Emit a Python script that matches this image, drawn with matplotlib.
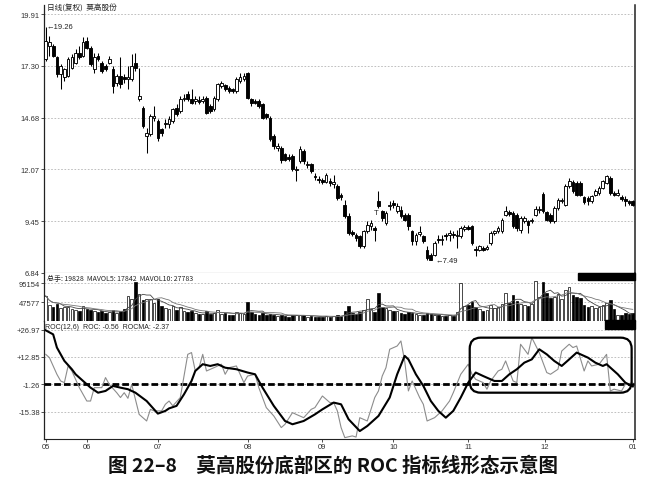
import numpy as np
import pandas as pd
import matplotlib
matplotlib.use("Agg")
import matplotlib.pyplot as plt
from matplotlib.patches import FancyBboxPatch, Rectangle
from matplotlib.transforms import IdentityTransform

plt.rcParams['font.family'] = ['Liberation Sans', 'Noto Sans CJK SC', 'DejaVu Sans']

# ---------------- data ----------------
open_ = [17.63, 18.31, 18.31, 17.72, 16.87, 16.71, 16.79, 17.21, 17.46, 17.97,
         17.80, 18.56, 18.22, 17.13, 17.80, 17.46, 17.30, 17.46, 17.13, 16.45,
         16.79, 16.71, 16.62, 16.62, 17.46, 15.61, 15.19, 13.75, 13.84, 14.68,
         14.51, 14.09, 14.34, 14.34, 14.51, 15.19, 15.02, 15.61, 15.86, 15.61,
         15.52, 15.56, 15.51, 15.69, 15.27, 15.10, 15.61, 16.28, 16.32, 16.20,
         16.12, 16.03, 16.54, 16.62, 16.96, 15.61, 15.52, 15.52, 15.36, 14.85,
         14.68, 13.75, 13.16, 13.16, 12.83, 12.69, 12.74, 12.03, 12.49, 12.99,
         12.27, 12.32, 11.76, 11.59, 11.51, 11.43, 11.48, 11.31, 11.22, 10.77,
         10.29, 9.71, 8.91, 8.78, 8.69, 8.19, 8.95, 9.20, 9.11, 10.46,
         9.96, 9.37, 10.21, 10.38, 9.96, 10.04, 9.79, 9.79, 8.95, 8.44,
         8.81, 8.69, 8.02, 7.76, 7.76, 8.56, 8.49, 8.78, 8.78, 8.81,
         8.69, 8.69, 9.08, 9.15, 9.20, 8.05, 8.02, 8.10, 8.07, 8.36,
         8.86, 8.95, 8.95, 9.79, 9.94, 9.87, 9.79, 9.03, 9.45, 9.45,
         9.45, 9.79, 10.01, 10.85, 9.91, 9.79, 9.45, 10.13, 10.46, 10.29,
         11.22, 11.43, 11.39, 11.39, 10.68, 10.63, 10.46, 10.80, 10.89, 11.14,
         11.39, 11.64, 10.89, 10.80, 10.67, 10.58, 10.46, 10.46]
close = [18.56, 18.48, 17.80, 16.87, 17.30, 17.13, 17.63, 17.72, 17.97, 17.72,
         18.48, 18.22, 17.38, 17.72, 17.63, 17.04, 17.13, 17.63, 16.28, 16.79,
         16.37, 16.62, 16.71, 17.30, 17.21, 15.78, 14.26, 13.92, 14.77, 14.77,
         13.67, 13.92, 14.43, 14.60, 15.10, 14.85, 15.61, 15.69, 15.61, 15.44,
         15.61, 15.47, 15.61, 14.93, 15.02, 15.69, 16.37, 16.42, 16.12, 16.03,
         16.01, 16.62, 16.71, 16.79, 15.69, 15.44, 15.44, 15.27, 14.68, 14.73,
         13.58, 13.25, 13.25, 12.57, 12.57, 12.61, 12.07, 12.10, 13.08, 12.49,
         12.35, 11.98, 11.68, 11.51, 11.43, 11.81, 11.39, 11.43, 10.63, 10.68,
         9.71, 8.86, 8.81, 8.61, 8.19, 8.95, 9.28, 9.37, 9.03, 10.21,
         9.62, 9.87, 10.29, 10.29, 10.21, 9.71, 9.54, 9.20, 8.44, 8.78,
         8.89, 8.44, 7.60, 7.51, 8.36, 8.49, 8.56, 8.69, 8.86, 8.74,
         8.78, 9.11, 9.15, 9.08, 8.36, 7.98, 8.19, 8.02, 8.15, 8.86,
         8.95, 9.11, 9.54, 9.96, 9.84, 9.20, 9.11, 9.62, 9.62, 9.28,
         9.54, 10.08, 10.09, 9.96, 9.54, 9.45, 10.13, 10.55, 10.55, 11.22,
         11.48, 10.97, 10.80, 10.80, 10.41, 10.46, 10.72, 10.97, 11.14, 11.48,
         11.73, 10.89, 10.80, 10.89, 10.58, 10.50, 10.38, 10.29]
high = [19.26, 18.81, 18.39, 17.80, 17.38, 17.21, 17.72, 17.89, 18.14, 18.31,
        18.73, 18.73, 18.31, 17.97, 17.97, 17.55, 17.38, 17.80, 17.30, 16.87,
        17.72, 16.87, 17.30, 17.89, 17.97, 17.21, 15.27, 14.17, 14.85, 15.27,
        14.60, 14.17, 14.60, 14.77, 15.19, 15.36, 15.78, 15.86, 16.03, 16.12,
        15.78, 15.78, 15.78, 15.78, 15.36, 15.78, 16.45, 16.54, 16.37, 16.28,
        16.20, 16.71, 16.96, 16.96, 16.99, 15.69, 15.61, 15.61, 15.44, 14.93,
        14.77, 13.84, 13.42, 13.25, 12.91, 12.83, 12.83, 12.24, 13.25, 13.08,
        12.49, 12.40, 11.90, 11.73, 11.64, 11.90, 11.64, 11.81, 11.31, 10.89,
        10.55, 9.87, 9.03, 8.86, 8.78, 9.03, 9.45, 9.54, 9.20, 10.97,
        10.04, 9.96, 10.46, 10.55, 10.38, 10.21, 9.87, 9.87, 9.03, 8.86,
        9.20, 8.78, 8.19, 7.85, 8.44, 8.78, 8.78, 8.86, 9.03, 8.95,
        9.03, 9.20, 9.28, 9.28, 9.28, 8.19, 8.27, 8.19, 8.27, 8.95,
        9.03, 9.20, 9.62, 10.21, 10.04, 9.96, 9.87, 9.71, 9.71, 9.54,
        9.62, 10.21, 10.21, 10.92, 9.96, 9.87, 10.21, 10.63, 10.63, 11.31,
        11.64, 11.56, 11.48, 11.48, 10.75, 10.72, 10.80, 11.06, 11.22, 11.56,
        11.81, 11.73, 10.97, 11.06, 10.80, 10.72, 10.55, 10.55]
low = [17.55, 17.80, 17.72, 16.71, 16.12, 16.54, 16.71, 17.13, 17.38, 17.63,
       17.72, 18.14, 17.30, 16.96, 17.55, 16.96, 17.04, 17.38, 15.95, 16.28,
       16.20, 16.45, 16.12, 16.54, 17.04, 15.52, 14.17, 12.91, 13.75, 14.51,
       13.50, 13.75, 14.17, 14.17, 14.43, 14.77, 14.93, 15.52, 15.52, 15.36,
       15.36, 15.36, 15.44, 14.85, 14.93, 15.02, 15.52, 16.20, 16.03, 15.95,
       15.95, 15.95, 16.45, 16.54, 15.61, 15.27, 15.36, 15.19, 14.60, 14.60,
       13.50, 13.08, 12.99, 12.40, 12.49, 12.49, 11.98, 11.48, 12.40, 12.32,
       12.15, 11.90, 11.56, 11.39, 11.31, 11.39, 11.22, 11.14, 10.55, 10.55,
       9.62, 8.78, 8.69, 8.44, 8.10, 8.10, 8.86, 9.03, 8.44, 10.13,
       9.45, 9.28, 10.04, 10.13, 9.87, 9.62, 9.45, 9.03, 8.27, 8.27,
       8.69, 8.36, 7.51, 7.49, 7.68, 8.36, 8.27, 8.52, 8.44, 8.61,
       8.10, 8.61, 8.95, 9.03, 8.27, 7.68, 7.93, 7.93, 8.02, 8.27,
       8.78, 8.86, 8.86, 9.71, 9.71, 9.11, 8.95, 8.86, 9.37, 8.86,
       9.37, 9.71, 9.87, 9.87, 9.45, 9.37, 9.37, 10.04, 10.38, 10.21,
       11.14, 10.89, 10.72, 10.72, 10.34, 10.29, 10.38, 10.72, 10.80, 11.06,
       11.31, 10.80, 10.72, 10.72, 10.46, 10.21, 10.29, 10.21]
volume = [63000, 40000, 36000, 42000, 33000, 35000, 36000, 30000, 28000, 26000,
          38000, 30000, 27000, 25000, 22000, 24000, 20000, 22000, 28000, 20000,
          25000, 30000, 63000, 54000, 98000, 67000, 52000, 54000, 54000, 46000,
          55000, 38000, 32000, 30000, 38000, 28000, 34000, 25000, 22000, 24000,
          20000, 18000, 17000, 24000, 18000, 20000, 28000, 18000, 20000, 16000,
          15000, 22000, 20000, 18000, 48000, 22000, 18000, 16000, 20000, 14000,
          18000, 16000, 12000, 15000, 13000, 11000, 16000, 14000, 15000, 14000,
          11000, 13000, 10000, 11000, 9000, 12000, 10000, 12000, 15000, 12000,
          25000, 38000, 20000, 18000, 22000, 28000, 55000, 30000, 22000, 70000,
          35000, 32000, 28000, 24000, 26000, 20000, 18000, 22000, 20000, 18000,
          14000, 15000, 20000, 18000, 16000, 14000, 13000, 12000, 15000, 12000,
          22000, 95000, 38000, 40000, 48000, 35000, 30000, 25000, 28000, 40000,
          32000, 35000, 42000, 70000, 45000, 65000, 50000, 42000, 40000, 38000,
          42000, 100000, 60000, 98000, 70000, 58000, 60000, 68000, 55000, 78000,
          85000, 65000, 60000, 58000, 40000, 36000, 38000, 32000, 36000, 40000,
          45000, 52000, 30000, 15000, 16000, 20000, 18000, 19828]

roc_day = [0, 1, 3, 4, 5, 6, 7, 9, 11, 12, 13, 15, 16, 17, 19, 20, 21, 22, 23, 25,
           27, 28, 29, 31, 32, 33, 34, 36, 38, 39, 40, 41, 42, 43, 45, 47, 48, 49, 51, 53,
           54, 56, 57, 59, 61, 63, 64, 66, 67, 69, 71, 72, 74, 75, 76, 77, 78, 79, 80, 82,
           83, 84, 86, 87, 88, 89, 90, 91, 92, 94, 95, 96, 97, 98, 100, 101, 102, 104, 106, 108,
           109, 111, 112, 113, 114, 115, 117, 118, 119, 121, 122, 123, 124, 125, 126, 127, 128, 129, 130, 132,
           134, 135, 137, 138, 140, 141, 142, 144, 145, 146, 148, 150, 151, 152, 154, 155, 157]
roc_val = [14.2, 12.5, 3.9, 0.45, -0.4, 8.2, 5.6, -3.0, -9.9, -9.9, -3.0, -3.0, 2.2, -1.3, -5.6, -8.1, -5.6, -8.5, -1.3, -16.8,
           -20.2, -14.2, -15.0, -15.0, -11.6, -9.9, -12.4, -8.1, 14.2, 15.1, 5.6, 7.3, 14.2, 5.6, 7.3, 9.1, 3.9, 7.3, 8.2, -0.4,
           3.0, 3.9, -3.0, -13.3, -17.6, -23.6, -21.9, -15.9, -16.8, -18.5, -14.2, -13.3, -7.3, -9.0, -10.7, -10.7, -15.0, -23.6, -28.8, -27.9,
           -28.5, -18.5, -20.2, -14.2, -8.1, -4.7, 3.0, 7.3, 16.8, 18.5, 21.1, 10.8, -4.7, 0.45, -8.1, -11.6, -20.2, -18.5, -15.0, -9.9,
           -5.6, 3.9, 6.5, 9.1, 3.9, 1.3, -0.4, -3.8, 0.45, 5.6, 6.5, 10.8, 5.6, 0.45, -0.4, 19.4, 16.8, 14.2, 22.8, 15.1,
           4.8, 3.9, 6.5, 15.9, 19.4, 17.7, 18.5, 5.6, 10.8, 8.2, 9.1, 14.2, -4.7, -3.8, -4.7, -1.3, -0.56]

rocma_day = [0, 2, 3, 5, 7, 8, 10, 12, 14, 16, 18, 20, 22, 24, 27, 30, 32, 33, 35, 37,
             39, 40, 42, 44, 46, 48, 51, 54, 56, 58, 61, 64, 66, 69, 72, 74, 77, 79, 81, 84,
             86, 89, 92, 94, 96, 97, 99, 101, 103, 105, 107, 109, 111, 113, 115, 117, 120, 122, 124, 126,
             128, 130, 132, 134, 136, 138, 140, 142, 145, 147, 149, 150, 153, 155, 157]
rocma_val = [26.6, 24.5, 17.7, 10.8, 6.5, 3.9, 0.45, -3.0, -5.6, -4.7, -2.1, -3.0, -3.8, -5.6, -9.9, -16.4, -15.0, -13.7, -12.4, -6.4,
             0.45, 5.6, 9.1, 8.2, 9.1, 7.3, 6.5, 4.8, 3.9, -3.0, -12.4, -20.2, -21.9, -20.2, -16.8, -14.2, -10.7, -11.6, -19.3, -25.4,
             -22.8, -17.6, -8.1, 3.9, 13.4, 11.6, 3.9, -2.1, -9.9, -15.0, -18.5, -15.0, -8.1, -0.4, 4.8, 3.0, 0.45, 0.45, 3.9, 6.5,
             9.9, 11.6, 16.8, 14.2, 10.8, 8.2, 11.6, 15.1, 12.5, 9.9, 8.2, 9.1, 3.9, -0.4, -2.37]

price_ticks = [19.91, 17.30, 14.68, 12.07, 9.45, 6.84]
vol_ticks = [95154, 47577]
roc_ticks = [26.97, 12.85, -1.26, -15.38]
roc_tick_labels = ['+26.97', '+12.85', '-1.26', '-15.38']
month_pos = [0, 11, 30, 54, 74, 93, 113, 133.5, 157]
month_labels = ['05', '06', '07', '08', '09', '10', '11', '12', '01']
high_label, low_label = 19.26, 7.49
roc_ref_level = -1.26

# ---------------- layout ----------------
W, H = 670, 489
fig = plt.figure(figsize=(W / 100, H / 100), dpi=100)
fig.patch.set_facecolor('white')

def fx(px):
    return px / W

def fy(py):
    return 1 - py / H

L, R = 44, 635
ax_p = fig.add_axes([fx(L), fy(274), fx(R) - fx(L), fy(6) - fy(274)])
ax_v = fig.add_axes([fx(L), fy(322), fx(R) - fx(L), fy(274) - fy(322)], sharex=ax_p)
ax_r = fig.add_axes([fx(L), fy(440), fx(R) - fx(L), fy(322) - fy(440)], sharex=ax_p)

o = np.array(open_); c = np.array(close); h = np.array(high); lo = np.array(low)
v = np.array(volume, dtype=float)
x = np.arange(len(c))
up = c >= o

# candles
ax_p.vlines(x, lo, h, color='black', lw=0.75, zorder=2)
bb = np.minimum(o, c)
bh = np.maximum(np.abs(c - o), 0.05)
ax_p.bar(x[up], bh[up], bottom=bb[up], width=0.72, color='white', edgecolor='black', lw=0.65, zorder=3)
ax_p.bar(x[~up], bh[~up], bottom=bb[~up], width=0.72, color='black', edgecolor='black', lw=0.65, zorder=3)
ax_p.set_ylim(6.84, 20.37)
ax_p.set_xlim(-0.45, 157.6)
ax_p.set_yticks(price_ticks)
ax_p.set_yticklabels([f'{t:.2f}' for t in price_ticks])

ax_p.text(0.25, high_label, '\u2190' + f'{high_label:.2f}', fontsize=5.5, va='center', ha='left', color='#222')
ax_p.text(104.3, low_label, '\u2190' + f'{low_label:.2f}', fontsize=5.5, va='center', ha='left', color='#222')
ax_p.text(88.3, 9.9, 'T', fontsize=5.5, va='center', ha='center', color='#222')

# volume
ax_v.bar(x[up], v[up], width=0.7, color='white', edgecolor='black', lw=0.5, zorder=3)
ax_v.bar(x[~up], v[~up], width=0.7, color='black', edgecolor='black', lw=0.5, zorder=3)
ma5 = pd.Series(v).rolling(5, min_periods=1).mean()
ma10 = pd.Series(v).rolling(10, min_periods=1).mean()
ax_v.plot(x, ma5, color='#444', lw=0.6, zorder=4)
ax_v.plot(x, ma10, color='#777', lw=0.6, zorder=4)
ax_v.set_ylim(0, 120200)
ax_v.set_yticks(vol_ticks)
ax_v.set_yticklabels([str(t) for t in vol_ticks])

# ROC
ax_r.axhline(roc_ref_level, color='black', lw=2.0, dashes=(2.4, 1.1), zorder=3)
ax_r.plot(roc_day, roc_val, color='#8c8c8c', lw=0.8, zorder=4)
ax_r.plot(rocma_day, rocma_val, color='black', lw=1.5, zorder=5)
ax_r.set_ylim(-29.5, 31.4)
ax_r.set_yticks(roc_ticks)
ax_r.set_yticklabels(roc_tick_labels)
ax_r.set_xticks(month_pos)
ax_r.set_xticklabels(month_labels)

for ax in (ax_p, ax_v, ax_r):
    ax.grid(axis='y', linestyle=(0, (2, 2)), color='#b5b5b5', lw=0.6, zorder=0)
    ax.tick_params(axis='both', labelsize=5.5, length=2, width=0.6, pad=1, colors='#333')
    ax.spines['top'].set_visible(False)
    ax.spines['left'].set_color('#222'); ax.spines['left'].set_linewidth(0.9)
    ax.spines['right'].set_color('#222'); ax.spines['right'].set_linewidth(1.1)
    ax.spines['bottom'].set_color('#555'); ax.spines['bottom'].set_linewidth(0.8)
ax_p.tick_params(axis='x', labelbottom=False, length=0)
ax_v.tick_params(axis='x', labelbottom=False, length=0)
ax_r.spines['bottom'].set_color('#222')

# header texts
fig.text(fx(47), fy(9), '日线(复权)  莫高股份', fontsize=5.5, va='center', ha='left',
         family=['Noto Sans CJK SC', 'DejaVu Sans'], color='#222')
fig.text(fx(47), fy(279), '总手: 19828  MAVOL5: 17842  MAVOL10: 27783', fontsize=5, va='center', ha='left',
         family=['Noto Sans CJK SC', 'DejaVu Sans'], color='#222')
fig.text(fx(45), fy(327.5), 'ROC(12,6)  ROC: -0.56  ROCMA: -2.37', fontsize=5, va='center', ha='left',
         color='#222')

# black label boxes
fig.add_artist(Rectangle((fx(578), fy(281)), fx(635) - fx(578), fy(274) - fy(281),
                         transform=fig.transFigure, color='black', zorder=10))
fig.add_artist(Rectangle((fx(605), fy(330)), fx(635) - fx(605), fy(321) - fy(330),
                         transform=fig.transFigure, color='black', zorder=10))

# rounded highlight box on the ROC panel
x0, y0 = ax_r.transData.transform((113.4, -5.6))
x1, y1 = ax_r.transData.transform((156.7, 22.8))
box = FancyBboxPatch((x0, y0), x1 - x0, y1 - y0, boxstyle='round,pad=0,rounding_size=11',
                     transform=IdentityTransform(), fill=False, ec='black', lw=1.6, zorder=12)
fig.add_artist(box)

# caption
fig.text(0.497, fy(466), '图 22–8　莫高股份底部区的 ROC 指标线形态示意图', fontsize=14, weight='bold',
         ha='center', va='center', family=['Noto Sans CJK SC', 'DejaVu Sans'], color='#111')

fig.savefig('out.png', dpi=100, facecolor='white')
